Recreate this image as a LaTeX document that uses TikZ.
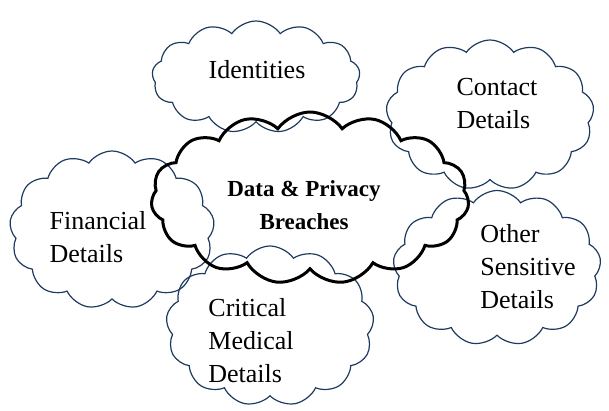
\documentclass[tikz,border=0pt]{standalone}
\usepackage{fontspec}
\setmainfont{Liberation Serif}
\usetikzlibrary{shapes.symbols}
\definecolor{cloudBlue}{HTML}{1F3A5F}
\tikzset{
	topic/.style={cloud, cloud ignores aspect, cloud puffs=13, cloud puff arc=110, draw=cloudBlue, line width=1.2pt},
	core/.style={topic, draw=black, line width=3pt, cloud puffs=15},
	topictext/.style={align=left, font=\fontsize{26}{33}\selectfont},
	coretext/.style={align=center, font=\fontsize{23}{33}\selectfont\bfseries}
}
\begin{document}
\begin{tikzpicture}[x=1pt,y=-1pt]
	\useasboundingbox (0,0) rectangle (609,410);
	\node[topic, minimum width=208, minimum height=112] (ids) at (256,77) {};
	\node[topic, minimum width=208, minimum height=150] (contact) at (490,115) {};
	\node[topic, minimum width=205, minimum height=158] (fin) at (112,230) {};
	\node[topic, minimum width=208, minimum height=155] (other) at (497,268) {};
	\node[topic, minimum width=208, minimum height=160] (med) at (270,326) {};
	\node[core, minimum width=318, minimum height=172] (breach) at (310,198) {};
	% texts
	\node[topictext] (ids text) at (257,70) {Identities};
	\node[topictext] (contact text) at (497,104) {Contact\\Details};
	\node[topictext] (fin text) at (98,237) {Financial\\Details};
	\node[topictext] (other text) at (528,267) {Other\\Sensitive\\Details};
	\node[topictext] (med text) at (251,341) {Critical\\Medical\\Details};
	\node[coretext] (breach text) at (304,205) {Data \& Privacy\\Breaches};
\end{tikzpicture}
\end{document}
